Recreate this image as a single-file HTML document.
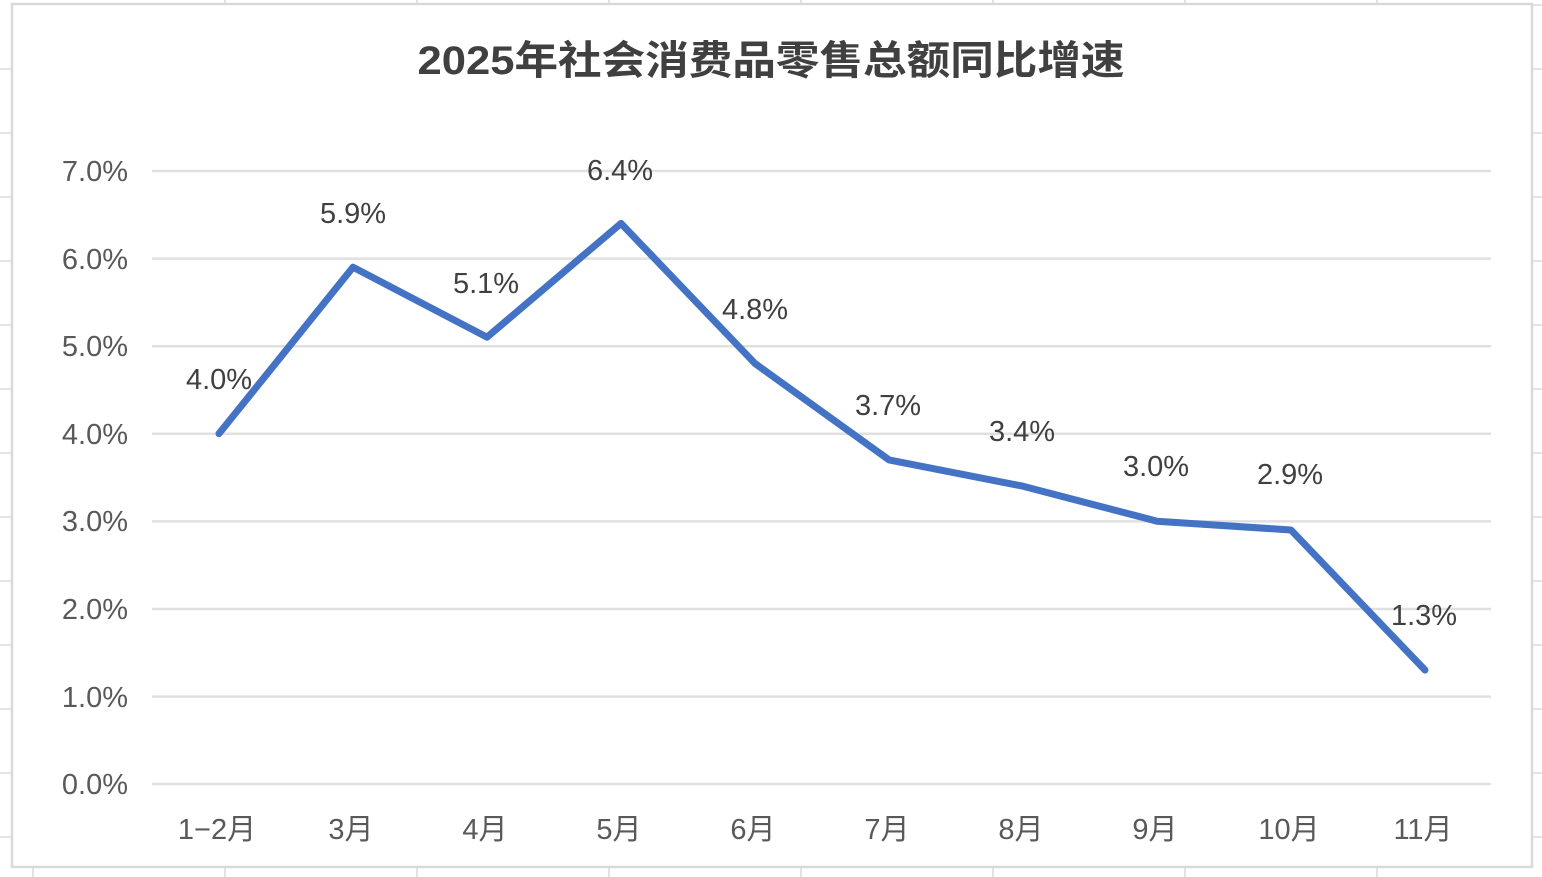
<!DOCTYPE html>
<html><head><meta charset="utf-8"><style>
html,body{margin:0;padding:0;background:#fff;}
svg{display:block;font-family:"Liberation Sans","Noto Sans CJK SC",sans-serif;}
</style></head><body>
<svg width="1542" height="877" viewBox="0 0 1542 877" xmlns="http://www.w3.org/2000/svg">
<g stroke="#e3e3e3" stroke-width="2">
<line x1="0" y1="69" x2="11" y2="69"/><line x1="0" y1="133" x2="11" y2="133"/><line x1="0" y1="197" x2="11" y2="197"/><line x1="0" y1="261" x2="11" y2="261"/><line x1="0" y1="325" x2="11" y2="325"/><line x1="0" y1="389" x2="11" y2="389"/><line x1="0" y1="453" x2="11" y2="453"/><line x1="0" y1="517" x2="11" y2="517"/><line x1="0" y1="581" x2="11" y2="581"/><line x1="0" y1="645" x2="11" y2="645"/><line x1="0" y1="709" x2="11" y2="709"/><line x1="0" y1="773" x2="11" y2="773"/><line x1="0" y1="837" x2="11" y2="837"/>
<line x1="1533" y1="5" x2="1542" y2="5"/><line x1="1533" y1="69" x2="1542" y2="69"/><line x1="1533" y1="133" x2="1542" y2="133"/><line x1="1533" y1="197" x2="1542" y2="197"/><line x1="1533" y1="261" x2="1542" y2="261"/><line x1="1533" y1="325" x2="1542" y2="325"/><line x1="1533" y1="389" x2="1542" y2="389"/><line x1="1533" y1="453" x2="1542" y2="453"/><line x1="1533" y1="517" x2="1542" y2="517"/><line x1="1533" y1="581" x2="1542" y2="581"/><line x1="1533" y1="645" x2="1542" y2="645"/><line x1="1533" y1="709" x2="1542" y2="709"/><line x1="1533" y1="773" x2="1542" y2="773"/><line x1="1533" y1="837" x2="1542" y2="837"/>
<line x1="33" y1="868" x2="33" y2="877"/><line x1="225" y1="868" x2="225" y2="877"/><line x1="417" y1="868" x2="417" y2="877"/><line x1="609" y1="868" x2="609" y2="877"/><line x1="801" y1="868" x2="801" y2="877"/><line x1="993" y1="868" x2="993" y2="877"/><line x1="1185" y1="868" x2="1185" y2="877"/><line x1="1377" y1="868" x2="1377" y2="877"/>
<line x1="225" y1="0" x2="225" y2="3"/><line x1="417" y1="0" x2="417" y2="3"/><line x1="609" y1="0" x2="609" y2="3"/><line x1="801" y1="0" x2="801" y2="3"/><line x1="993" y1="0" x2="993" y2="3"/><line x1="1185" y1="0" x2="1185" y2="3"/><line x1="1377" y1="0" x2="1377" y2="3"/>
</g>
<rect x="12" y="4" width="1520" height="863" fill="#fff" stroke="#d9d9d9" stroke-width="2.5"/>
<text x="771" y="74" text-anchor="middle" font-size="40" font-weight="bold" fill="#404040" textLength="707" lengthAdjust="spacingAndGlyphs">2025年社会消费品零售总额同比增速</text>
<g stroke="#e0e0e0" stroke-width="2.5">
<line x1="152" y1="171" x2="1491" y2="171"/><line x1="152" y1="258.6" x2="1491" y2="258.6"/><line x1="152" y1="346.2" x2="1491" y2="346.2"/><line x1="152" y1="433.8" x2="1491" y2="433.8"/><line x1="152" y1="521.4" x2="1491" y2="521.4"/><line x1="152" y1="609" x2="1491" y2="609"/><line x1="152" y1="696.6" x2="1491" y2="696.6"/><line x1="152" y1="784" x2="1491" y2="784"/>
</g>
<g font-size="29" fill="#595959" text-anchor="end">
<text x="128" y="181">7.0%</text><text x="128" y="269">6.0%</text><text x="128" y="356">5.0%</text><text x="128" y="444">4.0%</text><text x="128" y="531">3.0%</text><text x="128" y="619">2.0%</text><text x="128" y="707">1.0%</text><text x="128" y="794">0.0%</text>
</g>
<g font-size="29" fill="#595959" text-anchor="middle">
<text x="217" y="839">1−2月</text><text x="351" y="839">3月</text><text x="485" y="839">4月</text><text x="619" y="839">5月</text><text x="753" y="839">6月</text><text x="887" y="839">7月</text><text x="1021" y="839">8月</text><text x="1155" y="839">9月</text><text x="1289" y="839">10月</text><text x="1423" y="839">11月</text>
</g>
<polyline fill="none" stroke="#4472c4" stroke-width="7" stroke-linejoin="round" stroke-linecap="round" points="219,433.6 353,267.2 487,337.2 621,223.4 755,363.5 889,459.9 1023,486.2 1157,521.2 1291,530 1425,670.1"/>
<g font-size="29" fill="#404040" text-anchor="middle">
<text x="219" y="389">4.0%</text><text x="353" y="223">5.9%</text><text x="486" y="293">5.1%</text><text x="620" y="180">6.4%</text><text x="755" y="319">4.8%</text><text x="888" y="415">3.7%</text><text x="1022" y="441">3.4%</text><text x="1156" y="476">3.0%</text><text x="1290" y="484">2.9%</text><text x="1424" y="625">1.3%</text>
</g>
</svg>
</body></html>
